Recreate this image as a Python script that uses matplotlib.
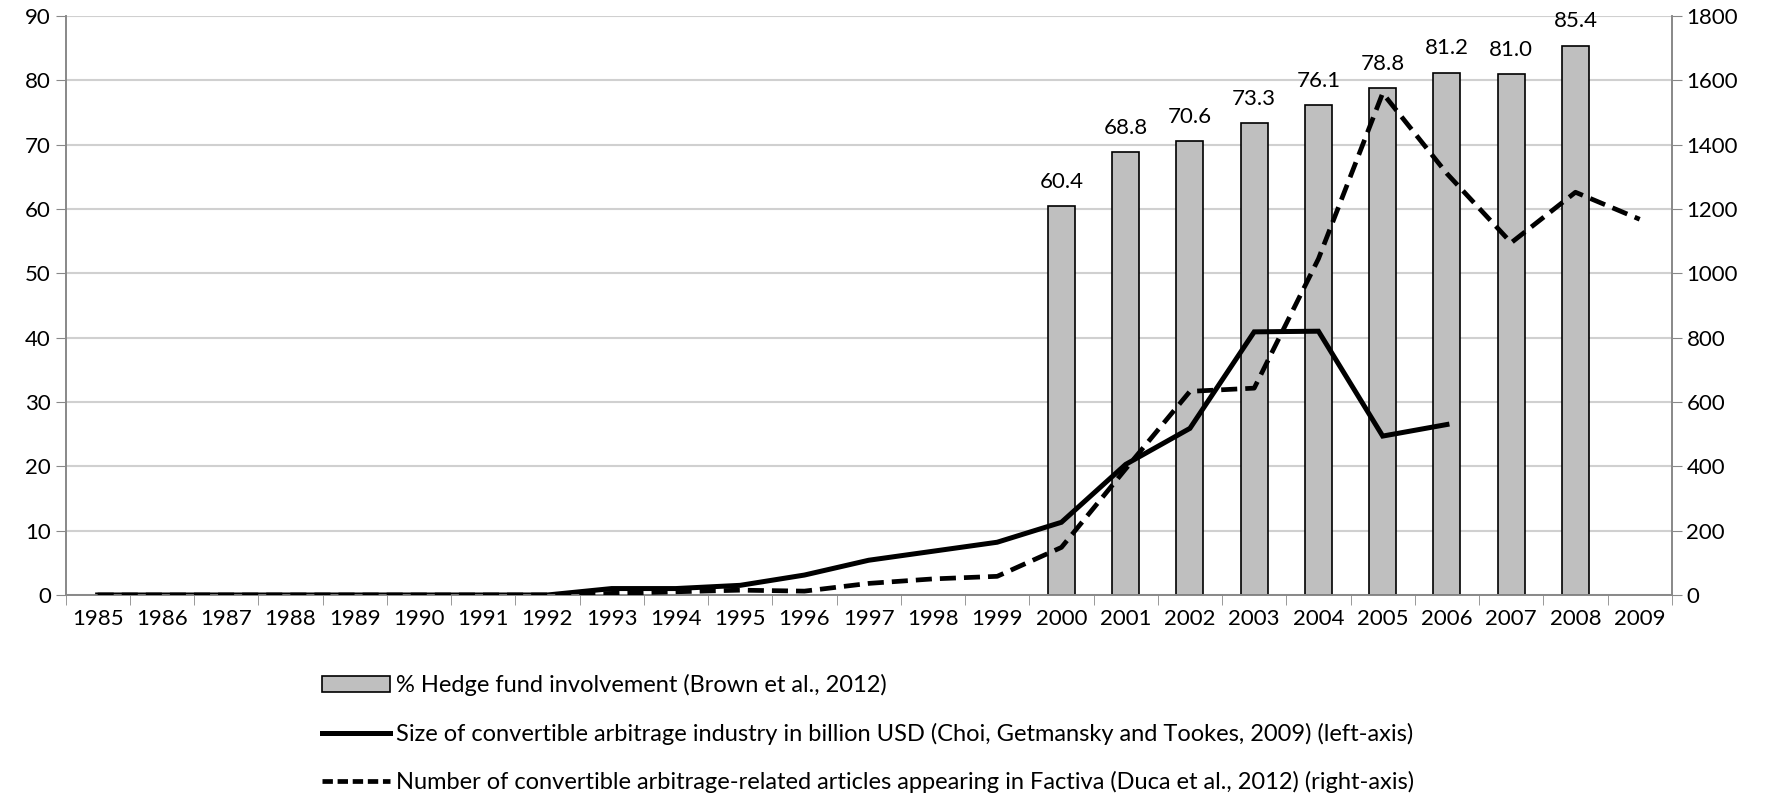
import numpy as np
import matplotlib.pyplot as plt
from matplotlib.patches import Patch
from matplotlib.lines import Line2D

plt.rcParams['font.family'] = ['Lato', 'DejaVu Sans']

years = [str(y) for y in range(1985, 2010)]

# % hedge fund involvement (bars, left axis), 2000-2008
bar_years = ['2000', '2001', '2002', '2003', '2004', '2005', '2006', '2007', '2008']
hedge_pct = [60.4, 68.8, 70.6, 73.3, 76.1, 78.8, 81.2, 81.0, 85.4]

# size of industry, billion USD (left axis), 1985-2006
size_years = [str(y) for y in range(1985, 2007)]
size_bn = [0, 0, 0, 0, 0, 0, 0, 0, 1.0, 1.0, 1.5, 3.1, 5.4, 6.8, 8.2,
           11.3, 20.3, 25.9, 40.9, 41.0, 24.7, 26.5]

# number of articles in Factiva (right axis), 1985-2009
articles = [0, 0, 0, 0, 0, 0, 0, 0, 5, 10, 15, 12, 36, 50, 58,
            148, 392, 633, 643, 1045, 1560, 1310, 1095, 1252, 1168]

fig = plt.figure(figsize=(17.71, 7.98), dpi=100)
ax = fig.add_axes([0.037, 0.2544, 0.907, 0.7256])
ax2 = ax.twinx()

FS = 16

xi = {y: i for i, y in enumerate(years)}
bx = [xi[y] for y in bar_years]
ax.bar(bx, hedge_pct, width=0.42, color='#bfbfbf', edgecolor='black',
       linewidth=1.2, zorder=2)
for x, v in zip(bx, hedge_pct):
    ax.text(x, v + 2.2, f'{v:.1f}', ha='center', va='bottom', fontsize=FS)

ax.plot([xi[y] for y in size_years], size_bn, color='black', lw=3.6,
        solid_joinstyle='miter', zorder=3)
ax2.plot(range(len(years)), articles, color='black', lw=3.4,
         linestyle=(0, (3.4, 1.7)), zorder=3)

ax.set_xlim(-0.5, len(years) - 0.5)
ax.set_ylim(0, 90)
ax.set_yticks(np.arange(0, 91, 10))
ax2.set_ylim(0, 1800)
ax2.set_yticks(np.arange(0, 1801, 200))

ax.set_xticks(range(len(years)))
ax.set_xticklabels(years)
ax.set_xticks(np.arange(-0.5, len(years), 1), minor=True)
ax.tick_params(axis='x', which='major', length=0, labelsize=FS, pad=10)
ax.tick_params(axis='x', which='minor', length=7, color='#888888')
ax.tick_params(axis='y', labelsize=FS, length=7, color='#888888')
ax2.tick_params(axis='y', labelsize=FS, length=7, color='#888888')

ax.grid(axis='y', color='#d0d0d0', lw=1.5, zorder=0)
ax.set_axisbelow(True)
for a in (ax, ax2):
    a.spines['top'].set_visible(False)
    for s in ('left', 'right', 'bottom'):
        a.spines[s].set_color('#888888')
        a.spines[s].set_linewidth(1.2)

handles = [
    Patch(facecolor='#bfbfbf', edgecolor='black', linewidth=1.2),
    Line2D([], [], color='black', lw=3.6),
    Line2D([], [], color='black', lw=3.4, linestyle=(0, (2.2, 1.0))),
]
labels = [
    '% Hedge fund involvement (Brown et al., 2012)',
    'Size of convertible arbitrage industry in billion USD (Choi, Getmansky and Tookes, 2009) (left-axis)',
    'Number of convertible arbitrage-related articles appearing in Factiva (Duca et al., 2012) (right-axis)',
]
fig.legend(handles, labels, loc='upper left', bbox_to_anchor=(0.175, 0.17),
           frameon=False, fontsize=17, handlelength=2.9, handletextpad=0.25,
           labelspacing=1.12, borderpad=0)

fig.savefig('out.png', dpi=100)
